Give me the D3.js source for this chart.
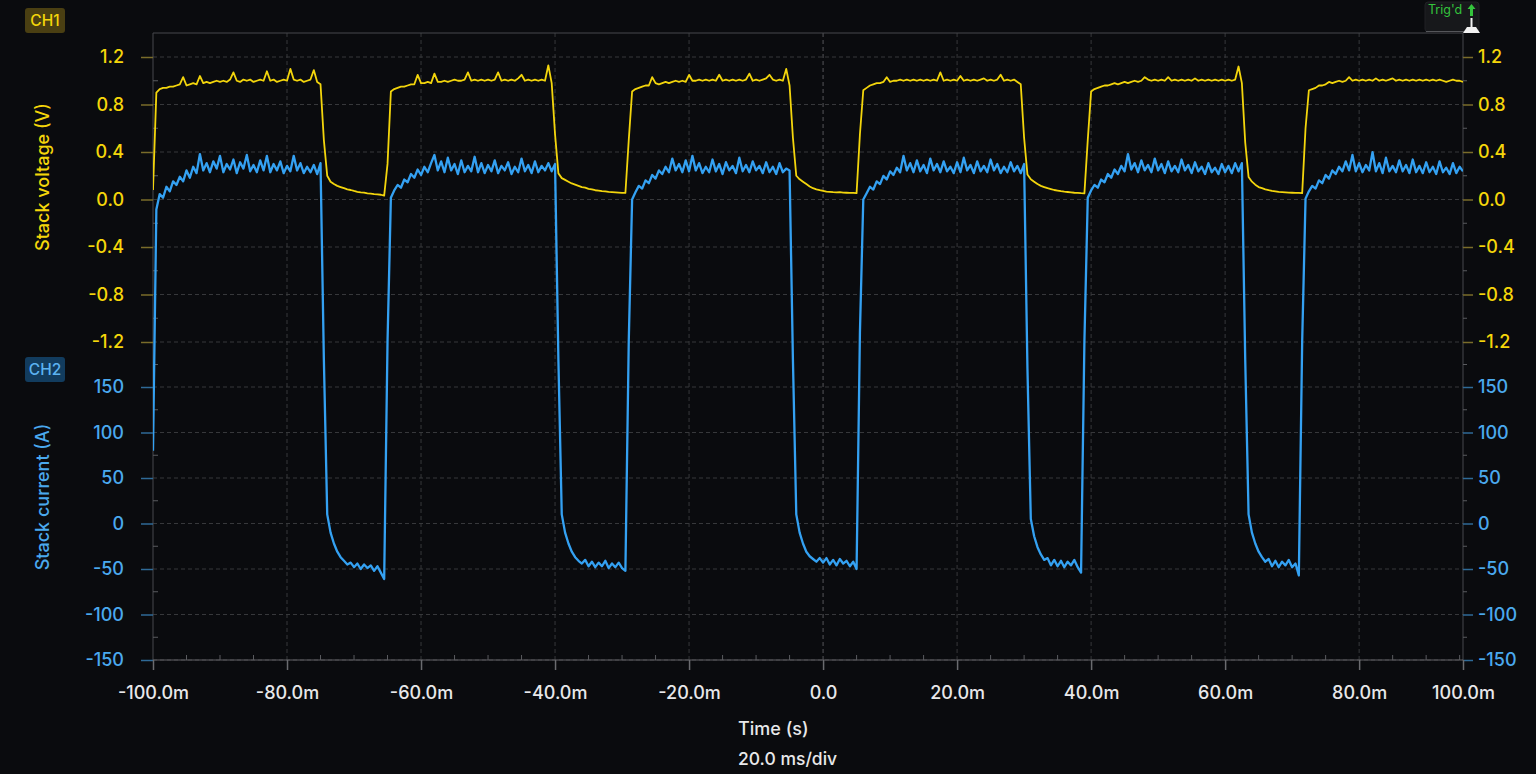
<!DOCTYPE html>
<html>
<head>
<meta charset="utf-8">
<script src="https://cdn.jsdelivr.net/npm/d3@7"></script>
<style>
  html, body { margin: 0; background: #0a0b0e; }
  svg { display: block; }
</style>
</head>
<body>
<svg id="scope" width="1536" height="774"></svg>
<script>
// captured samples, one every 0.5 ms starting at -100 ms
const timeStartMs = -100;
const sampleMs = 0.5;

// CH1 stack voltage (V), rows of 10 ms
const ch1Volts = [
  0.08, 0.90, 0.93, 0.94, 0.94, 0.95, 0.95, 0.96, 0.97, 1.03, 0.96, 0.97, 0.98, 0.97, 1.04, 0.98, 0.99, 0.98, 0.99, 1.00,
  0.99, 1.00, 0.99, 1.01, 1.07, 1.00, 0.99, 1.01, 1.00, 1.01, 0.99, 1.00, 1.01, 1.00, 1.08, 1.00, 1.01, 0.99, 1.00, 1.01,
  1.00, 1.10, 1.01, 1.00, 1.01, 0.99, 1.00, 1.01, 1.09, 0.99, 0.97, 0.50, 0.20, 0.15, 0.13, 0.115, 0.105, 0.095, 0.085, 0.08,
  0.072, 0.065, 0.060, 0.058, 0.052, 0.050, 0.046, 0.044, 0.040, 0.032, 0.30, 0.91, 0.93, 0.94, 0.95, 0.95, 0.96, 0.97, 0.97, 1.05,
  0.98, 0.98, 0.99, 0.98, 1.06, 0.99, 0.99, 1.00, 0.99, 1.00, 1.01, 1.00, 1.00, 1.01, 1.07, 1.00, 1.01, 1.00, 1.01, 1.00,
  1.01, 1.00, 1.01, 1.07, 1.00, 1.01, 1.00, 1.01, 1.00, 1.02, 1.05, 1.00, 1.01, 1.00, 1.01, 1.00, 1.01, 1.00, 1.13, 0.98,
  0.55, 0.22, 0.18, 0.165, 0.15, 0.135, 0.125, 0.115, 0.105, 0.10, 0.09, 0.085, 0.078, 0.075, 0.07, 0.068, 0.064, 0.062, 0.060, 0.058,
  0.056, 0.055, 0.50, 0.91, 0.93, 0.94, 0.95, 0.96, 0.96, 1.03, 0.98, 0.97, 0.98, 0.99, 0.98, 0.99, 1.00, 0.99, 1.00, 0.99,
  1.05, 1.00, 1.00, 1.01, 1.00, 1.01, 1.00, 1.01, 1.00, 1.05, 1.00, 1.01, 1.00, 1.01, 1.00, 1.01, 1.00, 1.01, 1.06, 1.00,
  1.01, 1.00, 1.01, 1.02, 1.05, 1.01, 1.00, 1.01, 1.00, 1.10, 0.96, 0.52, 0.20, 0.17, 0.15, 0.13, 0.11, 0.095, 0.085, 0.078,
  0.072, 0.066, 0.065, 0.062, 0.060, 0.062, 0.058, 0.057, 0.056, 0.055, 0.054, 0.55, 0.92, 0.94, 0.96, 0.97, 0.98, 0.98, 0.99, 1.03,
  0.99, 1.00, 1.00, 1.01, 1.00, 1.01, 1.00, 1.01, 1.00, 1.01, 1.00, 1.01, 1.00, 1.01, 1.00, 1.07, 1.00, 1.01, 1.00, 1.01,
  1.00, 1.04, 1.00, 1.01, 1.00, 1.01, 1.00, 1.01, 1.02, 1.00, 1.01, 1.00, 1.01, 1.05, 1.00, 1.01, 1.00, 1.01, 0.99, 0.97,
  0.52, 0.21, 0.17, 0.15, 0.13, 0.115, 0.105, 0.095, 0.088, 0.08, 0.075, 0.07, 0.066, 0.063, 0.06, 0.057, 0.055, 0.053, 0.052, 0.50,
  0.91, 0.93, 0.94, 0.95, 0.96, 0.96, 0.97, 0.98, 0.97, 0.98, 0.99, 0.98, 0.99, 1.00, 0.99, 1.00, 1.03, 1.01, 1.00, 1.01,
  1.00, 1.01, 1.00, 1.03, 1.00, 1.01, 1.00, 1.01, 1.00, 1.01, 1.00, 1.02, 1.00, 1.01, 1.00, 1.01, 1.00, 1.01, 1.00, 1.01,
  1.00, 1.01, 1.00, 1.01, 1.12, 0.98, 0.48, 0.19, 0.15, 0.125, 0.105, 0.095, 0.085, 0.078, 0.072, 0.068, 0.064, 0.062, 0.060, 0.058,
  0.057, 0.056, 0.055, 0.054, 0.60, 0.92, 0.93, 0.94, 0.96, 0.96, 0.97, 0.99, 0.98, 0.99, 1.00, 0.99, 1.00, 1.03, 1.00, 1.01,
  1.00, 1.01, 1.00, 1.01, 1.00, 1.02, 1.00, 1.01, 1.00, 1.01, 1.02, 1.00, 1.01, 1.00, 1.01, 1.00, 1.01, 1.00, 1.01, 1.00,
  1.01, 1.00, 1.01, 1.00, 1.01, 1.00, 0.99, 1.00, 1.01, 1.00, 1.00, 0.99
];

// CH2 stack current (A), same time base
const ch2Amps = [
  80, 345, 362, 358, 370, 365, 376, 372, 381, 376, 388, 380, 392, 385, 406, 388, 396, 386, 398, 390,
  404, 386, 395, 389, 400, 385, 397, 390, 405, 387, 394, 386, 399, 388, 404, 386, 395, 388, 398, 385,
  393, 387, 404, 388, 396, 385, 392, 386, 394, 384, 396, 180, 10, -10, -22, -31, -37, -41, -45, -43,
  -48, -44, -50, -45, -49, -46, -52, -47, -54, -61, 200, 358, 366, 372, 369, 378, 375, 384, 380, 389,
  383, 392, 386, 396, 405, 388, 398, 386, 402, 388, 395, 384, 399, 386, 393, 387, 403, 386, 396, 385,
  394, 387, 399, 385, 393, 388, 397, 384, 392, 386, 401, 387, 394, 385, 398, 386, 393, 388, 396, 387,
  395, 180, 10, -10, -22, -31, -37, -41, -44, -40, -47, -42, -48, -43, -47, -41, -49, -44, -48, -43,
  -49, -52, 200, 356, 364, 371, 368, 377, 374, 383, 379, 388, 384, 392, 386, 401, 388, 395, 386, 399,
  387, 404, 388, 396, 385, 392, 386, 400, 387, 395, 384, 397, 388, 393, 385, 402, 387, 394, 386, 398,
  388, 393, 385, 397, 386, 392, 384, 396, 386, 390, 388, 180, 10, -10, -22, -31, -36, -39, -42, -38,
  -43, -38, -45, -40, -46, -39, -44, -41, -47, -42, -50, 210, 356, 363, 370, 367, 376, 373, 382, 378,
  387, 383, 391, 386, 404, 388, 396, 386, 399, 387, 394, 385, 401, 388, 395, 386, 398, 387, 392, 385,
  397, 386, 402, 388, 394, 385, 398, 387, 393, 386, 400, 388, 395, 385, 392, 386, 397, 387, 393, 385,
  395, 170, 5, -14, -26, -34, -40, -38, -46, -40, -47, -41, -48, -42, -46, -40, -48, -54, 200, 358,
  366, 372, 369, 378, 375, 384, 380, 389, 384, 393, 387, 406, 389, 396, 386, 399, 388, 394, 386, 401,
  388, 395, 385, 398, 387, 393, 386, 400, 388, 394, 385, 397, 387, 392, 384, 396, 386, 391, 384, 395,
  386, 393, 385, 396, 387, 396, 180, 10, -10, -22, -31, -37, -42, -39, -47, -41, -48, -42, -46, -40,
  -48, -44, -57, 200, 357, 365, 371, 368, 377, 374, 383, 379, 388, 384, 392, 387, 398, 388, 405, 387,
  396, 386, 394, 388, 408, 387, 396, 385, 402, 387, 393, 386, 399, 387, 394, 385, 400, 386, 393, 385,
  397, 386, 392, 384, 398, 386, 391, 384, 396, 385, 392, 387
];

const timeTicks = [-100, -80, -60, -40, -20, 0, 20, 40, 60, 80, 100];
const voltTicks = [1.2, 0.8, 0.4, 0, -0.4, -0.8, -1.2];
const ampTicks = [150, 100, 50, 0, -50, -100, -150];

const FONT = "Inter, 'Noto Sans', 'Liberation Sans', sans-serif";
const yellowText = "#f5d60a";
const blueText = "#4aa9ee";
const yellowTrace = "#f3d50c";
const blueTrace = "#34a1f2";
const plot = { left: 153, right: 1463, top: 33, bottom: 660 };

const svg = d3.select("#scope").attr("font-family", FONT);

svg.append("rect").attr("width", 1536).attr("height", 774).attr("fill", "#0a0b0e");

// last sample sits at 95.5 ms, the 100 ms label gets clamped onto the edge
const x = d3.scaleLinear().domain([-100, 95.5]).range([plot.left, plot.right]).clamp(true);
const yV = d3.scaleLinear().domain([-1.2, 1.2]).range([342, 57]);
const yI = d3.scaleLinear().domain([-150, 150]).range([660, 387]);

const majorY = [...voltTicks.map(yV), ...ampTicks.map(yI)];

// dashed graticule
const grid = svg.append("g")
  .attr("stroke", "#37383b")
  .attr("stroke-width", 1)
  .attr("stroke-dasharray", "4,3");

grid.selectAll("line.h")
  .data(majorY)
  .join("line")
  .attr("class", "h")
  .attr("x1", plot.left).attr("x2", plot.right)
  .attr("y1", d => d).attr("y2", d => d);

grid.selectAll("line.v")
  .data(timeTicks.filter(t => t > -100 && t < 95))
  .join("line")
  .attr("class", "v")
  .attr("x1", d => x(d)).attr("x2", d => x(d))
  .attr("y1", plot.top).attr("y2", plot.bottom)
  .attr("stroke", d => d === 0 ? "#55565a" : null);

// frame
const frame = svg.append("g").attr("stroke", "#47484c").attr("stroke-width", 1);
frame.append("line").attr("x1", plot.left).attr("x2", plot.right).attr("y1", plot.top).attr("y2", plot.top);
frame.append("line").attr("x1", plot.left).attr("x2", plot.left).attr("y1", plot.top).attr("y2", plot.bottom);
frame.append("line").attr("x1", plot.right).attr("x2", plot.right).attr("y1", plot.top).attr("y2", plot.bottom);
frame.append("line").attr("x1", plot.left).attr("x2", plot.right).attr("y1", plot.bottom).attr("y2", plot.bottom)
  .attr("stroke", "#626367");

// minor ticks
const minorY = d3.pairs([...majorY].sort((a, b) => a - b), (a, b) => (a + b) / 2);
const minor = svg.append("g").attr("stroke", "#5a5b5f");
minor.selectAll("line.l").data(minorY).join("line").attr("class", "l")
  .attr("x1", plot.left).attr("x2", plot.left + 5).attr("y1", d => d).attr("y2", d => d);
minor.selectAll("line.r").data(minorY).join("line").attr("class", "r")
  .attr("x1", plot.right).attr("x2", plot.right + 4).attr("y1", d => d).attr("y2", d => d);
minor.selectAll("line.b").data(x.ticks(40).filter(t => t % 20 !== 0)).join("line").attr("class", "b")
  .attr("x1", d => x(d)).attr("x2", d => x(d)).attr("y1", plot.bottom).attr("y2", plot.bottom - 5);

function styleAxis(g, tickColor, textColor) {
  g.attr("font-family", FONT).attr("font-size", 18).attr("font-weight", 500);
  g.select(".domain").remove();
  g.selectAll(".tick line").attr("stroke", tickColor).attr("stroke-width", 1.5);
  g.selectAll(".tick text").attr("fill", textColor);
}

const fmtV = d => d.toFixed(1);
const fmtI = d => String(d);

svg.append("g")
  .attr("transform", `translate(${plot.left},0)`)
  .call(d3.axisLeft(yV).tickValues(voltTicks).tickSize(12).tickPadding(17).tickFormat(fmtV))
  .call(g => styleAxis(g, "#7a6c2a", yellowText));

svg.append("g")
  .attr("transform", `translate(${plot.left},0)`)
  .call(d3.axisLeft(yI).tickValues(ampTicks).tickSize(12).tickPadding(17).tickFormat(fmtI))
  .call(g => styleAxis(g, "#2f6a97", blueText));

svg.append("g")
  .attr("transform", `translate(${plot.right},0)`)
  .call(d3.axisRight(yV).tickValues(voltTicks).tickSize(10).tickPadding(5).tickFormat(fmtV))
  .call(g => styleAxis(g, "#7a6c2a", yellowText));

svg.append("g")
  .attr("transform", `translate(${plot.right},0)`)
  .call(d3.axisRight(yI).tickValues(ampTicks).tickSize(10).tickPadding(5).tickFormat(fmtI))
  .call(g => styleAxis(g, "#2f6a97", blueText));

svg.append("g")
  .attr("transform", `translate(0,${plot.bottom})`)
  .call(d3.axisBottom(x).tickValues(timeTicks).tickSize(10).tickPadding(16)
    .tickFormat(d => d === 0 ? "0.0" : d.toFixed(1) + "m"))
  .call(g => styleAxis(g, "#6a6b6f", "#e8e8ea"));

// traces
svg.append("clipPath").attr("id", "plotClip")
  .append("rect")
  .attr("x", plot.left).attr("y", plot.top)
  .attr("width", plot.right - plot.left).attr("height", plot.bottom - plot.top);

const sampleX = (d, i) => x(timeStartMs + i * sampleMs);

const traces = svg.append("g").attr("clip-path", "url(#plotClip)")
  .attr("fill", "none").attr("stroke-linejoin", "round");

traces.append("path")
  .attr("d", d3.line().x(sampleX).y(d => yV(d))(ch1Volts))
  .attr("stroke", yellowTrace)
  .attr("stroke-width", 1.8);

traces.append("path")
  .attr("d", d3.line().x(sampleX).y(d => yI(d))(ch2Amps))
  .attr("stroke", blueTrace)
  .attr("stroke-width", 2.3);

// channel badges
function badge(y, label, bg, fg) {
  svg.append("rect").attr("x", 25).attr("y", y).attr("width", 40).attr("height", 25)
    .attr("rx", 3).attr("fill", bg);
  svg.append("text").attr("x", 45).attr("y", y + 18).attr("text-anchor", "middle")
    .attr("font-size", 15.5).attr("font-weight", 500).attr("fill", fg).text(label);
}
badge(8, "CH1", "#4a3f12", yellowText);
badge(357, "CH2", "#123c5e", "#5cb3f2");

// axis titles
svg.append("text")
  .attr("transform", "translate(49,177) rotate(-90)")
  .attr("text-anchor", "middle").attr("font-size", 18).attr("font-weight", 500).attr("fill", yellowText)
  .text("Stack voltage (V)");

svg.append("text")
  .attr("transform", "translate(49,497) rotate(-90)")
  .attr("text-anchor", "middle").attr("font-size", 18).attr("font-weight", 500).attr("fill", blueText)
  .text("Stack current (A)");

svg.append("text")
  .attr("x", 738).attr("y", 735)
  .attr("font-size", 18).attr("font-weight", 500).attr("fill", "#e8e8ea")
  .text("Time (s)");

svg.append("text")
  .attr("x", 738).attr("y", 765)
  .attr("font-size", 17.5).attr("font-weight", 500).attr("fill", "#e8e8ea")
  .text("20.0 ms/div");

// trigger status + marker
const trig = svg.append("g");
trig.append("rect").attr("x", 1425).attr("y", 2).attr("width", 54).attr("height", 30)
  .attr("rx", 3).attr("fill", "#17181b").attr("stroke", "#202125");
trig.append("line").attr("x1", 1426).attr("x2", 1464).attr("y1", 31.5).attr("y2", 31.5)
  .attr("stroke", "#55565a");
trig.append("text").attr("x", 1428).attr("y", 14)
  .attr("font-size", 12.5).attr("fill", "#34c43c").text("Trig'd");
trig.append("path")
  .attr("d", "M1471.5,4 L1475.5,9 L1473,9 L1473,16 L1470,16 L1470,9 L1467.5,9 Z")
  .attr("fill", "#34c43c");
trig.append("rect").attr("x", 1470.5).attr("y", 18).attr("width", 2).attr("height", 9).attr("fill", "#f2f2f2");
trig.append("path")
  .attr("d", "M1467,27 L1476,27 L1480,33 L1463,33 Z")
  .attr("fill", "#f2f2f2");
</script>
</body>
</html>
